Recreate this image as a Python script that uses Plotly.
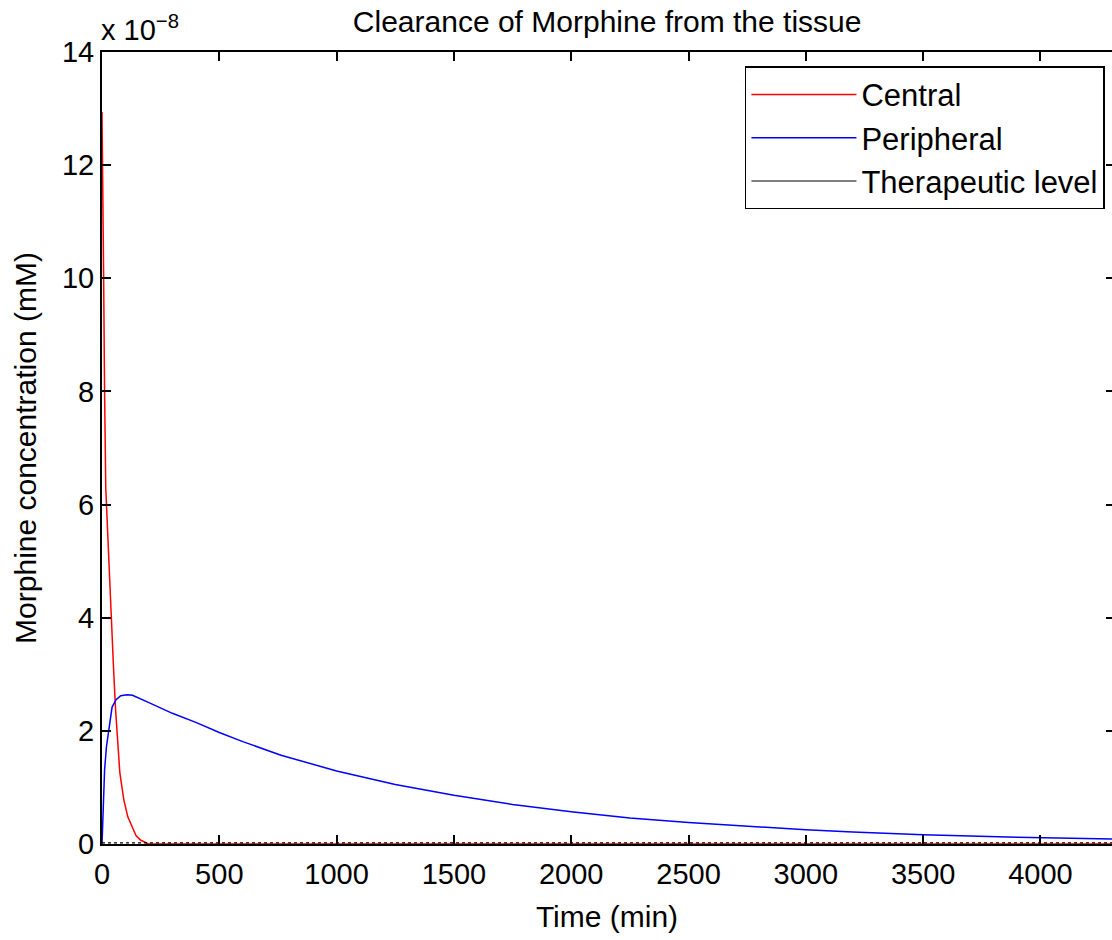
import plotly.graph_objects as go

SCALE = 1e-8  # values below are in units of 1e-8 mM

central_t = [0, 2, 7, 11, 16, 26, 39, 50, 58, 66, 76, 93, 110, 129, 145, 164, 198, 300, 1000, 2000, 3000, 4320]
central_v = [12.94, 11.6, 10.0, 8.0, 6.3, 5.33, 3.96, 3.03, 2.37, 1.8, 1.26, 0.78, 0.48, 0.30, 0.15, 0.07, 0.0, 0.0, 0.0, 0.0, 0.0, 0.0]

peripheral_t = [0, 3, 8, 11, 19, 33, 43, 60, 80, 107, 130, 200, 300, 400, 500, 600, 763, 1000, 1250, 1500,
                1750, 2000, 2250, 2500, 2800, 3000, 3200, 3500, 3900, 4320]
peripheral_v = [0, 0.45, 0.78, 1.31, 1.72, 2.19, 2.42, 2.55, 2.62, 2.64, 2.63, 2.50, 2.31, 2.15, 1.97, 1.81,
                1.57, 1.29, 1.05, 0.86, 0.70, 0.57, 0.46, 0.38, 0.30, 0.25, 0.21, 0.165, 0.12, 0.085]

therapeutic_t = [0, 4320]
therapeutic_v = [0.02, 0.02]

x_ticks = [0, 500, 1000, 1500, 2000, 2500, 3000, 3500, 4000]
y_ticks = [0, 2, 4, 6, 8, 10, 12, 14]

FONT = "Liberation Sans, Arial, Helvetica, sans-serif"

fig = go.Figure()
fig.add_trace(go.Scatter(x=central_t, y=[v * SCALE for v in central_v], mode="lines",
                         name="Central", line=dict(color="#ff0000", width=1.5)))
fig.add_trace(go.Scatter(x=peripheral_t, y=[v * SCALE for v in peripheral_v], mode="lines",
                         name="Peripheral", line=dict(color="#0000ff", width=1.5)))
fig.add_trace(go.Scatter(x=therapeutic_t, y=[v * SCALE for v in therapeutic_v], mode="lines",
                         name="Therapeutic level", line=dict(color="black", width=1.2, dash="dot"),
                         showlegend=False, yaxis="y2"))
fig.add_trace(go.Scatter(x=[None], y=[None], mode="lines", name="Therapeutic level",
                         line=dict(color="black", width=1.2)))

yr = [0, 14 * SCALE]
fig.update_layout(
    width=1112, height=940,
    margin=dict(l=102, r=0, t=52, b=96),
    paper_bgcolor="white", plot_bgcolor="white",
    font=dict(family=FONT, size=29, color="black"),
    title=dict(text="Clearance of Morphine from the tissue", x=0.546, xanchor="center",
               y=1 - 21 / 940, yanchor="middle", font=dict(size=30)),
    showlegend=True,
    legend=dict(x=0.993, xanchor="right", y=0.982, yanchor="top",
                bordercolor="black", borderwidth=1.5, bgcolor="white",
                font=dict(size=31), itemwidth=105, tracegroupgap=0),
    xaxis=dict(range=[0, 4305], tickvals=x_ticks, ticktext=[str(v) for v in x_ticks],
               ticks="inside", ticklen=9, tickwidth=1.5, tickcolor="black",
               showline=True, linecolor="black", linewidth=2, mirror="ticks",
               showgrid=False, zeroline=False, ticklabelstandoff=3,
               title=dict(text="Time (min)", font=dict(size=30), standoff=17)),
    yaxis=dict(range=yr, tickvals=[v * SCALE for v in y_ticks], ticktext=[str(v) for v in y_ticks],
               ticks="inside", ticklen=9, tickwidth=1.5, tickcolor="black",
               showline=True, linecolor="black", linewidth=2, mirror=False,
               showgrid=False, zeroline=False,
               title=dict(text="Morphine concentration (mM)", font=dict(size=30), standoff=16)),
    yaxis2=dict(range=yr, overlaying="y", side="right", tickvals=[v * SCALE for v in y_ticks],
                ticks="inside", ticklen=6, tickwidth=1.5, tickcolor="black",
                showticklabels=False, showline=False, showgrid=False, zeroline=False),
    annotations=[dict(text="x 10<sup>−8</sup>", xref="paper", yref="paper", x=0, y=1,
                      xanchor="left", yanchor="bottom", yshift=4, xshift=-3, showarrow=False,
                      font=dict(size=29))],
)

fig.write_html("out.html", config={"displayModeBar": False},
               post_script="document.body.style.margin='0';document.body.style.overflow='hidden';")
